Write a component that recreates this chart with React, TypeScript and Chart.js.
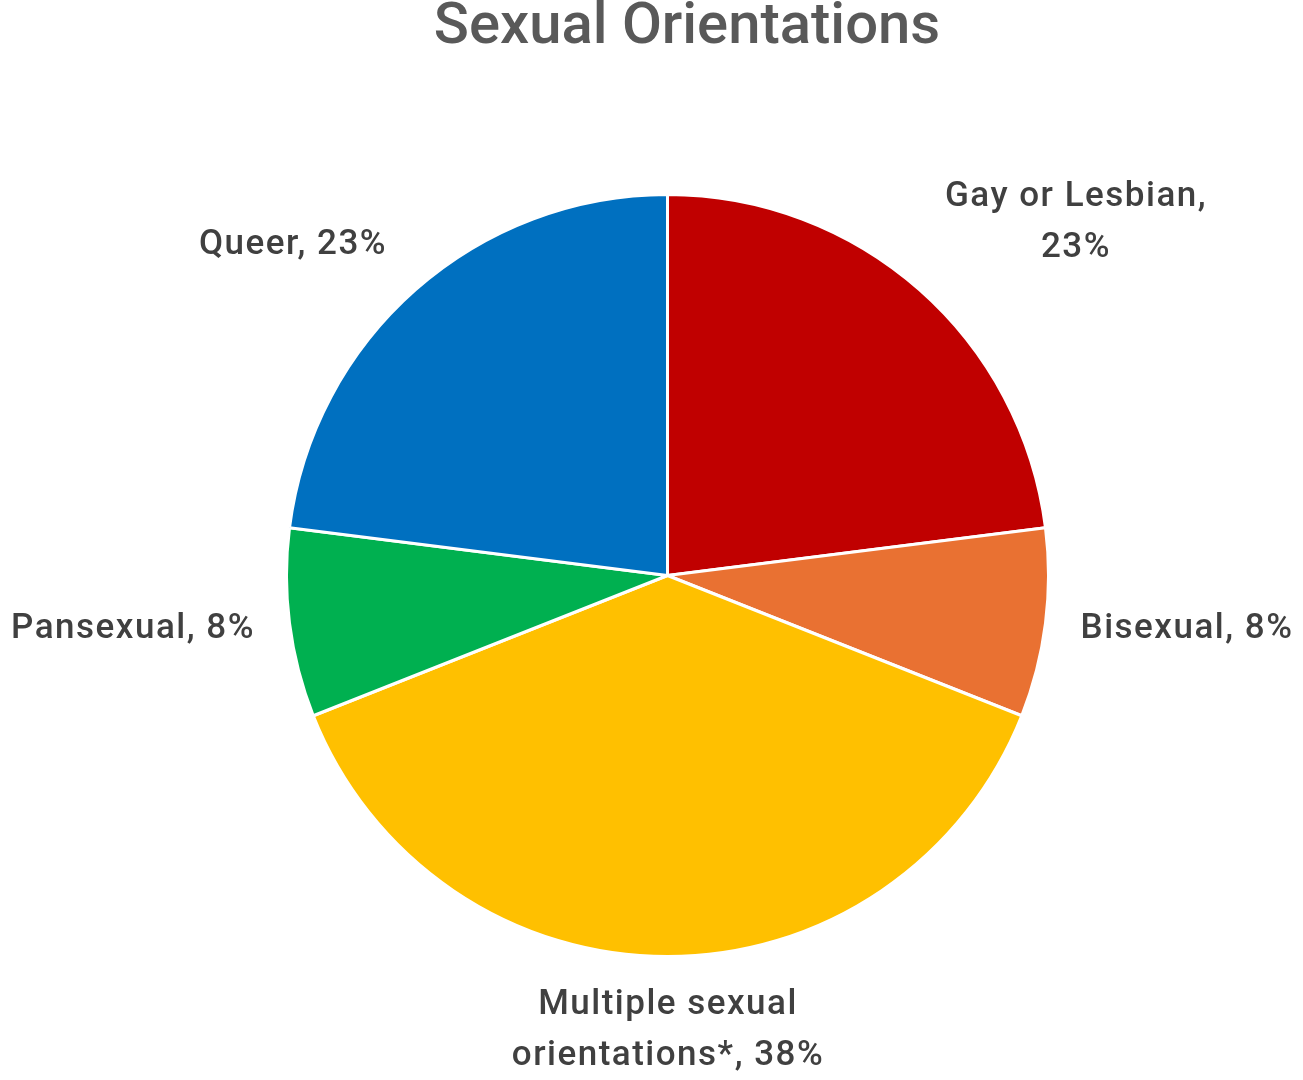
import React, { useEffect, useRef } from "react";
import { Chart, registerables } from "chart.js";

Chart.register(...registerables);

const categories = [
  "Gay or Lesbian",
  "Bisexual",
  "Multiple sexual orientations*",
  "Pansexual",
  "Queer",
];
const values = [23, 8, 38, 8, 23];
const sliceColors = ["#C00000", "#E97132", "#FFC000", "#00B050", "#0070C0"];
const labelLines = [
  ["Gay or Lesbian,", "23%"],
  ["Bisexual, 8%"],
  ["Multiple sexual", "orientations*, 38%"],
  ["Pansexual, 8%"],
  ["Queer, 23%"],
];
const labelPos = [
  [1076, 197],
  [1187, 629],
  [668, 1005],
  [133, 629],
  [293, 245],
];
const titleText = "Sexual Orientations";

const FONT = "Roboto, 'Noto Sans', sans-serif";

const overlay = {
  id: "overlay",
  afterDraw(chart: any) {
    const ctx = chart.ctx;
    ctx.save();
    ctx.textAlign = "center";
    ctx.textBaseline = "middle";
    ctx.fillStyle = "#595959";
    ctx.font = `500 58px ${FONT}`;
    ctx.fillText(titleText, 687, 28);
    ctx.fillStyle = "#404040";
    ctx.font = `500 35px ${FONT}`;
    (ctx as any).letterSpacing = "1.5px";
    labelLines.forEach((lines, i) => {
      const [x, y] = labelPos[i];
      lines.forEach((ln, j) => {
        ctx.fillText(ln, x, y + j * 51);
      });
    });
    ctx.restore();
  },
};

export default function App() {
  const ref = useRef<HTMLCanvasElement | null>(null);
  useEffect(() => {
    document.body.style.margin = "0";
    const chart = new Chart(ref.current as HTMLCanvasElement, {
      type: "pie",
      data: {
        labels: categories,
        datasets: [
          {
            data: values,
            backgroundColor: sliceColors,
            borderColor: "#FFFFFF",
            borderWidth: 3,
          },
        ],
      },
      options: {
        animation: false,
        responsive: false,
        maintainAspectRatio: false,
        layout: { padding: { left: 285, right: 253, top: 193, bottom: 122 } },
        plugins: {
          legend: { display: false },
          tooltip: { enabled: false },
          title: { display: false },
        },
      },
      plugins: [overlay],
    });
    return () => chart.destroy();
  }, []);
  return (
    <div style={{ width: 1303, height: 1080, background: "#fff" }}>
      <canvas ref={ref} width={1303} height={1080} style={{ display: "block" }} />
    </div>
  );
}
